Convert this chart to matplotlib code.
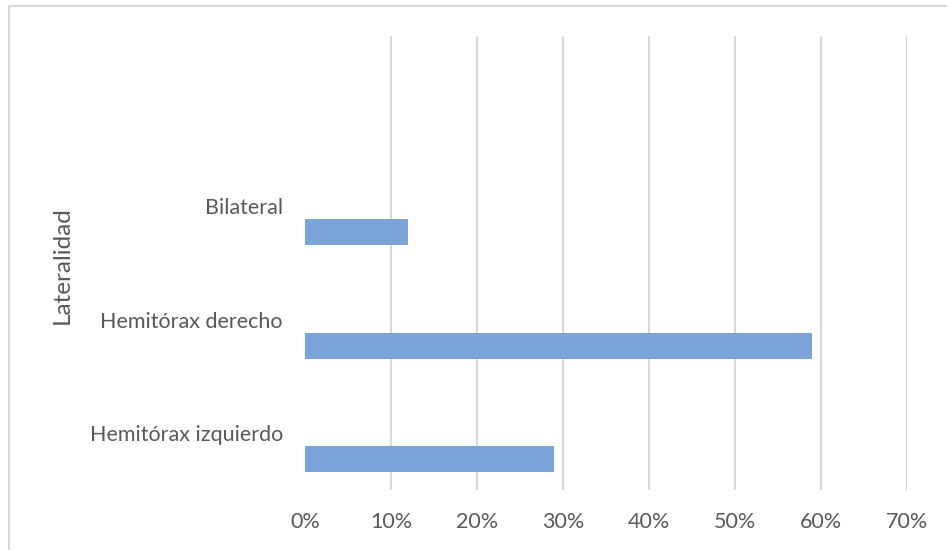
import matplotlib
matplotlib.use('Agg')
import matplotlib.pyplot as plt
from matplotlib.patches import Rectangle
from matplotlib.ticker import PercentFormatter

# lateralidad (bottom to top), top slot left empty
categories = ['Hemitórax izquierdo', 'Hemitórax derecho', 'Bilateral', '']
values = [29, 59, 12]
xticks = [0, 10, 20, 30, 40, 50, 60, 70]

grey = '#595959'
plt.rcParams['font.family'] = ['Lato', 'DejaVu Sans']

fig = plt.figure(figsize=(9.47, 5.5), dpi=100)
ax = fig.add_axes([305 / 947, 1 - 490 / 550, 602 / 947, 454 / 550])

pos = list(range(len(categories)))
bar_h = 0.23
ax.barh([p - 0.345 for p in pos[:len(values)]], values, height=bar_h,
        align='edge', color='#7BA5DA', zorder=3)

ax.set_xlim(0, 70)
ax.set_ylim(-0.5, len(categories) - 0.5)
ax.set_xticks(xticks)
ax.xaxis.set_major_formatter(PercentFormatter(decimals=0))
ax.set_yticks(pos)
ax.set_yticklabels(categories)

for x in xticks[1:]:
    ax.axvline(x, color='#d9d9d9', lw=1.5, zorder=1)

for s in ax.spines.values():
    s.set_visible(False)
ax.tick_params(axis='y', length=0, pad=16, labelsize=15.5, labelcolor=grey)
ax.tick_params(axis='x', length=0, pad=16, labelsize=15.5, labelcolor=grey)

fig.text(62 / 947, 1 - 265 / 550, 'Lateralidad', rotation=90, ha='center',
         va='center', fontsize=17.5, color=grey)

# chart area border
fig.patches.append(Rectangle((9 / 947, -0.05), 1.0, 1 - 6 / 550 + 0.05,
                             transform=fig.transFigure, fill=False,
                             ec='#d9d9d9', lw=1.5))

fig.savefig('out.png', dpi=100)
